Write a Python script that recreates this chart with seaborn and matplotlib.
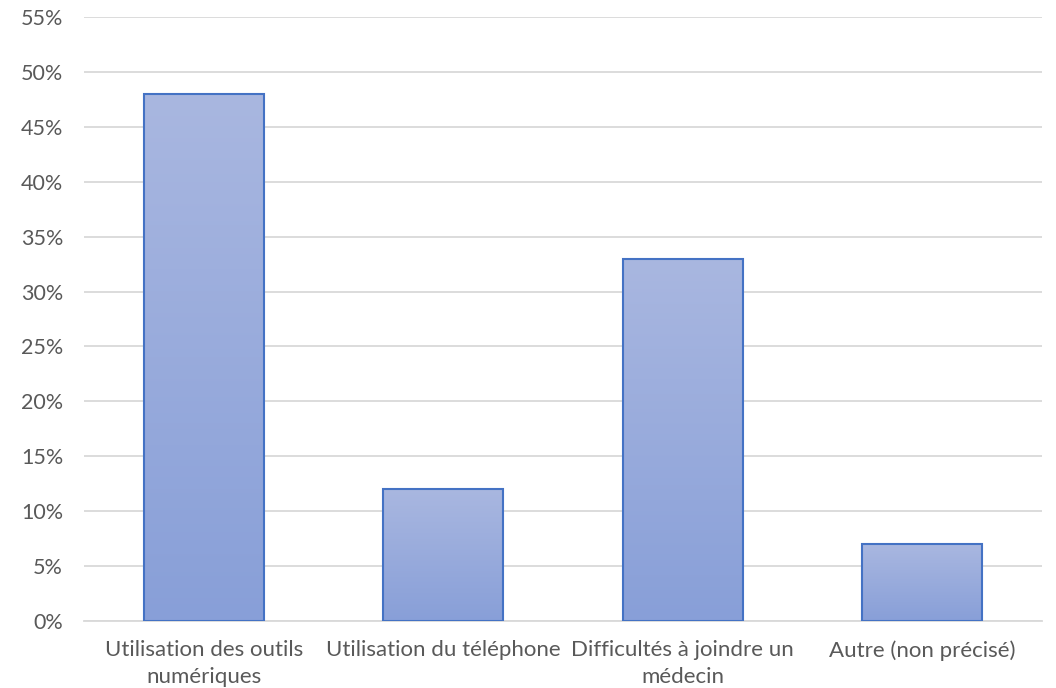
import numpy as np
import pandas as pd
import matplotlib
matplotlib.use("Agg")
import matplotlib.pyplot as plt
from matplotlib.colors import LinearSegmentedColormap
from matplotlib.ticker import MultipleLocator, FuncFormatter
import seaborn as sns

categories = [
    "Utilisation des outils\nnumériques",
    "Utilisation du téléphone",
    "Difficultés à joindre un\nmédecin",
    "Autre (non précisé)",
]
values = [48, 12, 33, 7]

df = pd.DataFrame({"categorie": categories, "part": values})

sns.set_theme(style="white")
plt.rcParams["font.family"] = ["Lato", "DejaVu Sans"]

fig = plt.figure(figsize=(10.56, 6.88), dpi=100)
ax = fig.add_axes([0.0795, 0.0974, 0.9072, 0.8779])

sns.barplot(data=df, x="categorie", y="part", ax=ax, width=0.5,
            color="#95A8DB", edgecolor="#4472C4", linewidth=1.5,
            saturation=1, zorder=2)

ax.set_ylim(0, 55)
ax.set_xlim(-0.5, len(categories) - 0.5)
ax.yaxis.set_major_locator(MultipleLocator(5))
ax.yaxis.set_major_formatter(FuncFormatter(lambda v, p: f"{v:.0f}%"))
ax.grid(axis="y", color="#D9D9D9", linewidth=1.3, zorder=0)
ax.set_axisbelow(True)
for side in ["left", "right", "top"]:
    ax.spines[side].set_visible(False)
ax.spines["bottom"].set_color("#D9D9D9")
ax.spines["bottom"].set_linewidth(1.3)
ax.set_xlabel("")
ax.set_ylabel("")
ax.tick_params(axis="both", length=0, colors="#595959")
ax.tick_params(axis="y", pad=15, labelsize=15.5)
ax.tick_params(axis="x", pad=14, labelsize=16)
for lbl in ax.get_xticklabels():
    lbl.set_linespacing(1.4)

# vertical gradient fill inside each bar
cmap = LinearSegmentedColormap.from_list("grad", ["#889FD8", "#A9B7E0"])
grad = np.linspace(0, 1, 256).reshape(-1, 1)
for patch in list(ax.patches):
    x0, y0 = patch.get_x(), patch.get_y()
    w, h = patch.get_width(), patch.get_height()
    im = ax.imshow(grad, cmap=cmap, origin="lower", aspect="auto",
                   extent=[x0, x0 + w, y0, y0 + h], zorder=2.5)
    im.set_clip_path(patch)
    patch.set_facecolor("none")
    patch.set_zorder(3)

ax.set_xlim(-0.5, len(categories) - 0.5)
ax.set_ylim(0, 55)

fig.savefig("out.png", dpi=100)
